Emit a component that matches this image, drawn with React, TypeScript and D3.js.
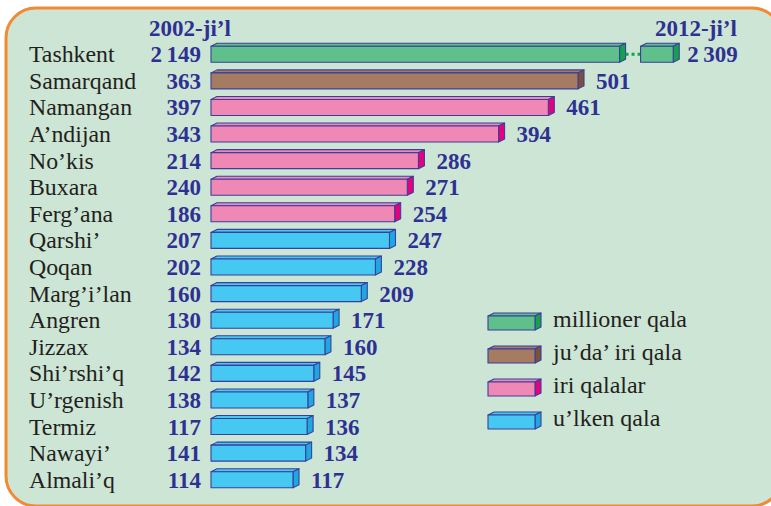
import React from 'react';
import * as d3 from 'd3';

// Qalalar hám xalıq sanı (mıń adam)
const cities = [
  'Tashkent', 'Samarqand', 'Namangan', 'A’ndijan', 'No’kis', 'Buxara', 'Ferg’ana',
  'Qarshi’', 'Qoqan', 'Marg’i’lan', 'Angren', 'Jizzax', 'Shi’rshi’q', 'U’rgenish',
  'Termiz', 'Nawayi’', 'Almali’q',
];
const values2002 = [2149, 363, 397, 343, 214, 240, 186, 207, 202, 160, 130, 134, 142, 138, 117, 141, 114];
const values2012 = [2309, 501, 461, 394, 286, 271, 254, 247, 228, 209, 171, 160, 145, 137, 136, 134, 117];
const groups = [0, 1, 2, 2, 2, 2, 2, 3, 3, 3, 3, 3, 3, 3, 3, 3, 3];

const groupNames = ['millioner qala', 'ju’da’ iri qala', 'iri qalalar', 'u’lken qala'];
const frontColors = ['#5fc08c', '#a57c62', '#f088b6', '#45c8f2'];
const sideColors = ['#16a14d', '#7b5237', '#e5007d', '#1ea8e2'];

const yearLeft = '2002-ji’l';
const yearRight = '2012-ji’l';

// Tashkent bar is drawn broken: first piece up to breakValue, then a short tail
const breakValue = 557;
const tailValue = 44;

const W = 771;
const H = 506;
const BLUE = '#2e3192';
const OUTLINE = '#3b3f9c';
const serif = "'Liberation Serif', 'Times New Roman', Times, 'DejaVu Serif', serif";

const fmt = (v: number) => (v >= 1000 ? `${Math.floor(v / 1000)}\u2009${String(v % 1000).padStart(3, '0')}` : String(v));

function Bar3D({ x0, y, w, h, g }: { x0: number; y: number; w: number; h: number; g: number }) {
  const dx = 6;
  const dy = 3;
  const top = `M${x0},${y} L${x0 + dx},${y - dy} L${x0 + w + dx},${y - dy} L${x0 + w},${y} Z`;
  const side = `M${x0 + w},${y} L${x0 + w + dx},${y - dy} L${x0 + w + dx},${y + h - dy} L${x0 + w},${y + h} Z`;
  return (
    <g stroke={OUTLINE} strokeWidth={1.1} strokeLinejoin="round">
      <path d={top} fill={frontColors[g]} />
      <path d={side} fill={sideColors[g]} />
      <rect x={x0} y={y} width={w} height={h} fill={frontColors[g]} />
    </g>
  );
}

const App = () => {
  const barLeft = 211;
  const x = d3.scaleLinear().domain([117, 501]).range([82, 367]);
  const y = d3.scaleBand<number>().domain(d3.range(cities.length)).range([41, 493]).paddingInner(0.4).paddingOuter(0.2);
  const legendY = d3.scalePoint<number>().domain(d3.range(groupNames.length)).range([323, 422]);
  const bh = 16;

  return (
    <svg width={W} height={H} style={{ position: 'absolute', left: 0, top: 0, display: 'block', fontFamily: serif }}>
      <rect x={6} y={8} width={776} height={498} rx={30} fill="#cde5d5" stroke="#f28a33" strokeWidth={3} />

      <text x={190} y={36} fontSize={23} fontWeight="bold" fill={BLUE} textAnchor="middle">{yearLeft}</text>
      <text x={696} y={36} fontSize={23} fontWeight="bold" fill={BLUE} textAnchor="middle">{yearRight}</text>

      {cities.map((c, i) => {
        const cy = (y(i) as number) + y.bandwidth() / 2;
        const top = cy - bh / 2;
        const isBroken = values2012[i] > 1000;
        const w1 = isBroken ? x(breakValue) : x(values2012[i]);
        let labelX = barLeft + w1 + 6 + 12;
        const tailX = barLeft + w1 + 6 + 15;
        const tailW = x(breakValue + tailValue) - x(breakValue);
        if (isBroken) labelX = tailX + tailW + 6 + 8;
        return (
          <g key={c}>
            <text x={29} y={cy + 8} fontSize={23.8} fill="#231f20">{c}</text>
            <text x={201} y={cy + 8} fontSize={23} fontWeight="bold" fill={BLUE} textAnchor="end">{fmt(values2002[i])}</text>
            <Bar3D x0={barLeft} y={top} w={w1} h={bh} g={groups[i]} />
            {isBroken && (
              <>
                <line x1={barLeft + w1 + 6} x2={tailX} y1={cy} y2={cy} stroke="#16a14d" strokeWidth={3} strokeDasharray="3,3" />
                <Bar3D x0={tailX} y={top} w={tailW} h={bh} g={groups[i]} />
              </>
            )}
            <text x={labelX} y={cy + 8} fontSize={23} fontWeight="bold" fill={BLUE}>{fmt(values2012[i])}</text>
          </g>
        );
      })}

      {groupNames.map((n, i) => {
        const cy = legendY(i) as number;
        return (
          <g key={n}>
            <Bar3D x0={488} y={cy - 7} w={47} h={14} g={i} />
            <text x={553} y={cy + 4} fontSize={24} fill="#231f20">{n}</text>
          </g>
        );
      })}
    </svg>
  );
};

export default App;
